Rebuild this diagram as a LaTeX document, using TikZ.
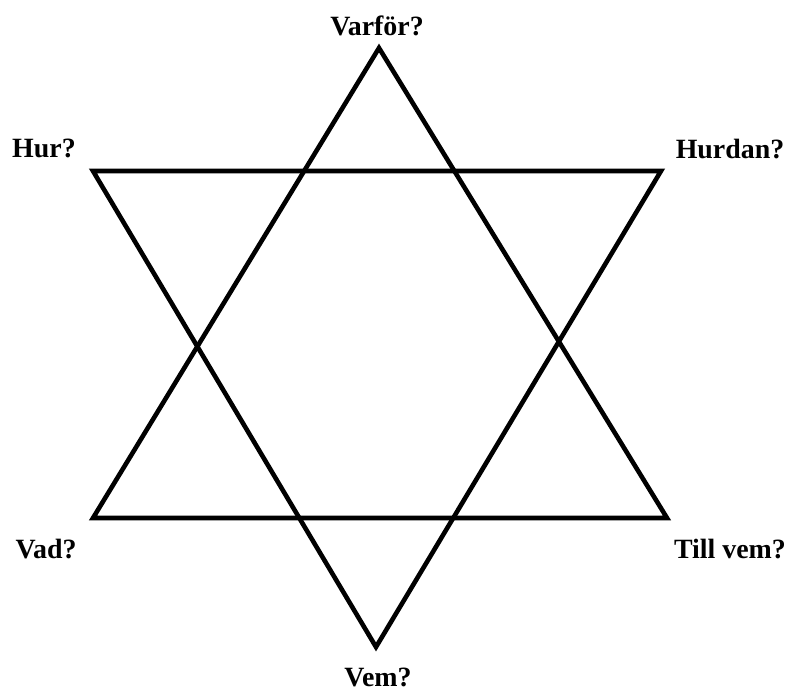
\documentclass[tikz,border=0pt]{standalone}
\usepackage{fontspec}
\setmainfont{Liberation Serif}
\begin{document}
\begin{tikzpicture}[x=1bp,y=1bp,
  tri/.style={line width=4.6bp,line join=miter,black},
  lbl/.style={inner sep=0pt,font=\fontsize{28}{30}\selectfont\bfseries}]
\useasboundingbox (0,0) rectangle (794,693);
\coordinate (A) at (379,645);
\coordinate (B) at (93,175);
\coordinate (C) at (667,175);
\coordinate (D) at (93,522);
\coordinate (E) at (661,522);
\coordinate (F) at (376,46);
\draw[tri] (A) -- (B) -- (C) -- cycle;
\draw[tri] (D) -- (E) -- (F) -- cycle;
\node[lbl] (varfor) at (377,667) {Varför?};
\node[lbl] (hur) at (44,545) {Hur?};
\node[lbl] (hurdan) at (730,544) {Hurdan?};
\node[lbl] (vad) at (46,144) {Vad?};
\node[lbl] (tillvem) at (730,144) {Till vem?};
\node[lbl] (vem) at (378,16) {Vem?};
\end{tikzpicture}
\end{document}
